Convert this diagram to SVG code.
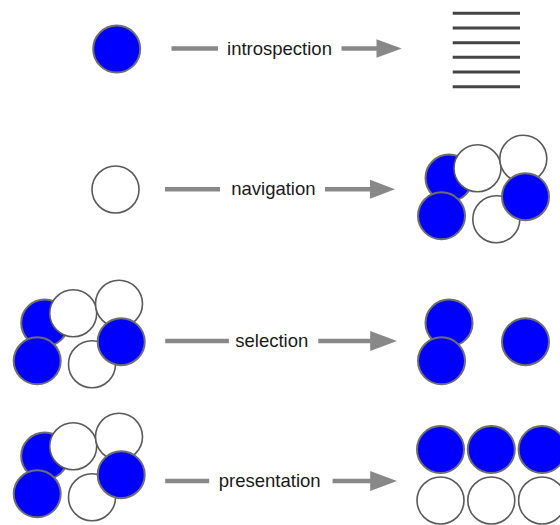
<svg xmlns="http://www.w3.org/2000/svg" xmlns:xlink="http://www.w3.org/1999/xlink" width="560" height="525" viewBox="0 0 560 525">
  <style>
    .b { fill: #0000ff; stroke: #6e6e6e; stroke-width: 2; }
    .w { fill: #ffffff; stroke: #5a5a5a; stroke-width: 1.6; }
    .ln { stroke: #888888; stroke-width: 4.5; fill: none; }
    .hd { fill: #888888; }
    .lab { font-family: "Liberation Sans", Arial, sans-serif; font-size: 18.5px; fill: #1a1a1a; text-anchor: middle; }
    .bar { stroke: #444444; stroke-width: 3; }
  </style>
  <defs>
    <g id="cluster">
      <circle class="b" cx="449" cy="178" r="23.5"/>
      <circle class="w" cx="477.5" cy="168.3" r="23.5"/>
      <circle class="w" cx="523.3" cy="158.8" r="23.5"/>
      <circle class="b" cx="441.5" cy="215.8" r="23.5"/>
      <circle class="w" cx="496.3" cy="219.2" r="23.5"/>
      <circle class="b" cx="525.5" cy="196.7" r="23.5"/>
    </g>
  </defs>

  <g id="connectors">
    <g id="arrow-introspection">
      <line class="ln" x1="171.5" y1="48.5" x2="218" y2="48.5"/>
      <line class="ln" x1="341.5" y1="48.5" x2="378" y2="48.5"/>
      <polygon class="hd" points="376.5,39.2 401.7,48.5 376.5,57.8"/>
      <text class="lab" x="279.5" y="54.5">introspection</text>
    </g>
    <g id="arrow-navigation">
      <line class="ln" x1="165" y1="189.3" x2="220" y2="189.3"/>
      <line class="ln" x1="325" y1="189.3" x2="371" y2="189.3"/>
      <polygon class="hd" points="370,179.8 395,189.3 370,198.8"/>
      <text class="lab" x="273.4" y="194.5">navigation</text>
    </g>
    <g id="arrow-selection">
      <line class="ln" x1="165.2" y1="341" x2="228.9" y2="341"/>
      <line class="ln" x1="318.3" y1="341" x2="371" y2="341"/>
      <polygon class="hd" points="370.2,331 397,341 370.2,351"/>
      <text class="lab" x="271.8" y="346.5">selection</text>
    </g>
    <g id="arrow-presentation">
      <line class="ln" x1="165.2" y1="481" x2="209.2" y2="481"/>
      <line class="ln" x1="332.6" y1="481" x2="371" y2="481"/>
      <polygon class="hd" points="370.2,471 397,481 370.2,491"/>
      <text class="lab" x="269.7" y="487">presentation</text>
    </g>
  </g>

  <g id="single-blue">
    <circle class="b" cx="116.7" cy="49" r="23.5"/>
  </g>
  <g id="list">
    <line class="bar" x1="452.7" y1="13.3" x2="520" y2="13.3"/>
    <line class="bar" x1="452.7" y1="28" x2="520" y2="28"/>
    <line class="bar" x1="452.7" y1="42.7" x2="520" y2="42.7"/>
    <line class="bar" x1="452.7" y1="57.3" x2="520" y2="57.3"/>
    <line class="bar" x1="452.7" y1="72" x2="520" y2="72"/>
    <line class="bar" x1="452.7" y1="86.7" x2="520" y2="86.7"/>
  </g>

  <g id="single-white">
    <circle class="w" cx="115.5" cy="189.5" r="23.5"/>
  </g>
  <g id="cluster-navigation">
    <use xlink:href="#cluster" href="#cluster"/>
  </g>

  <g id="cluster-selection-in" transform="translate(-404.3,145)">
    <use xlink:href="#cluster" href="#cluster"/>
  </g>
  <g id="selected">
    <circle class="b" cx="449" cy="323" r="23.5"/>
    <circle class="b" cx="441.5" cy="360.8" r="23.5"/>
    <circle class="b" cx="525.5" cy="341.7" r="23.5"/>
  </g>

  <g id="cluster-presentation-in" transform="translate(-404.3,278)">
    <use xlink:href="#cluster" href="#cluster"/>
  </g>
  <g id="grid">
    <circle class="b" cx="440.5" cy="449.5" r="23.5"/>
    <circle class="b" cx="491.3" cy="449.5" r="23.5"/>
    <circle class="b" cx="542.1" cy="449.5" r="23.5"/>
    <circle class="w" cx="440.5" cy="500.5" r="23.5"/>
    <circle class="w" cx="491.3" cy="500.5" r="23.5"/>
    <circle class="w" cx="542.1" cy="500.5" r="23.5"/>
  </g>
</svg>
